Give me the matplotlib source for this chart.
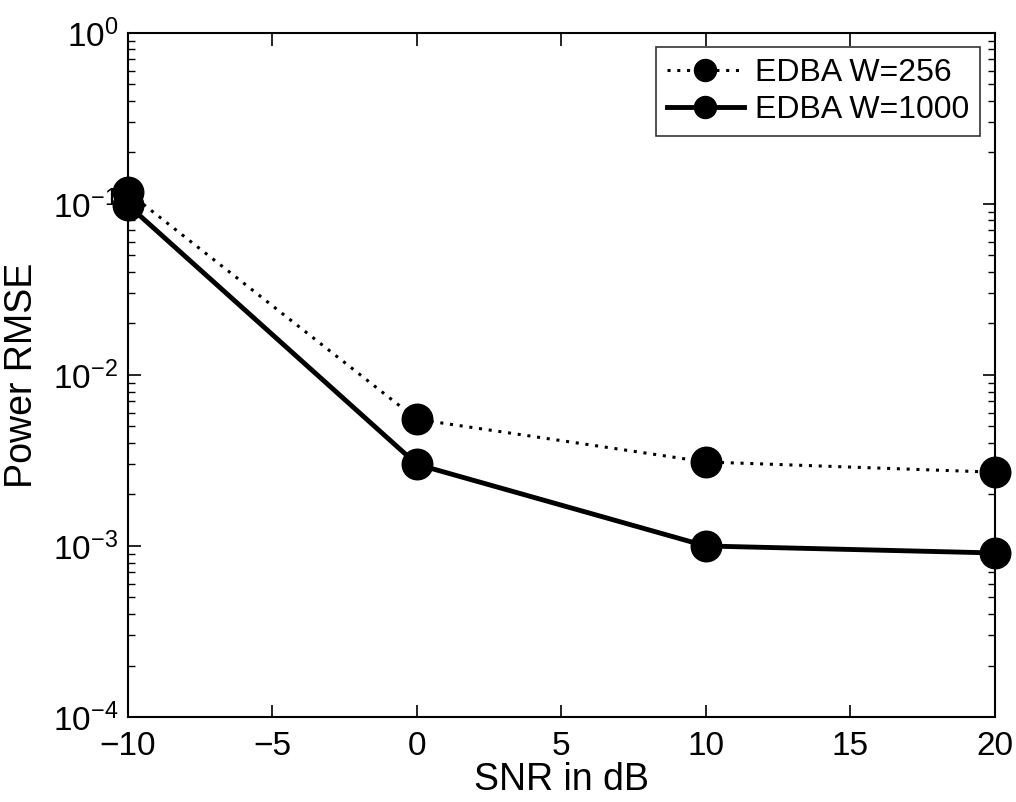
import matplotlib
matplotlib.use('Agg')
import matplotlib.pyplot as plt
from matplotlib.ticker import LogLocator

plt.rcParams['font.family'] = ['Liberation Sans', 'DejaVu Sans']

# data
snr = [-10, 0, 10, 20]
rmse_w256 = [0.117, 0.0055, 0.0031, 0.0027]
rmse_w1000 = [0.0985, 0.0030, 0.0010, 0.00091]

fig = plt.figure(figsize=(10.16, 8.02), dpi=100)
ax = fig.add_axes([0.126, 0.106, 0.853, 0.853])

ax.semilogy(snr, rmse_w256, linestyle=(0, (1, 2.2)), color='black', linewidth=2.2,
            marker='o', markersize=22, label='EDBA W=256', clip_on=False, zorder=3)
ax.semilogy(snr, rmse_w1000, linestyle='-', color='black', linewidth=3.5,
            marker='o', markersize=22, label='EDBA W=1000', clip_on=False, zorder=3)

ax.set_xlim(-10, 20)
ax.set_ylim(1e-4, 1)
ax.set_xticks([-10, -5, 0, 5, 10, 15, 20])
ax.set_xticklabels(['\u221210', '\u22125', '0', '5', '10', '15', '20'])
ax.yaxis.set_major_locator(LogLocator(base=10, numticks=10))
ax.yaxis.set_minor_locator(LogLocator(base=10, subs=range(2, 10), numticks=20))

ax.tick_params(which='both', direction='in', top=True, right=True, labelsize=24)
ax.tick_params(which='major', length=9, width=1.2)
ax.tick_params(which='minor', length=5, width=1.0)
ax.tick_params(axis='x', which='major', pad=10)
ax.tick_params(axis='y', which='major', pad=7)
for s in ax.spines.values():
    s.set_linewidth(1.5)

ax.set_xlabel('SNR in dB', fontsize=27)
ax.set_ylabel('Power RMSE', fontsize=27)
ax.xaxis.set_label_coords(0.5, -0.066)
ax.yaxis.set_label_coords(-0.101, 0.5)

leg = ax.legend(loc='upper right', fontsize=23, frameon=True, fancybox=False,
                edgecolor='black', handlelength=2.4, borderpad=0.35,
                labelspacing=0.2, handletextpad=0.35, borderaxespad=0.45,
                markerscale=0.72)
leg.get_frame().set_linewidth(1.2)

fig.savefig('out.png', dpi=100)
